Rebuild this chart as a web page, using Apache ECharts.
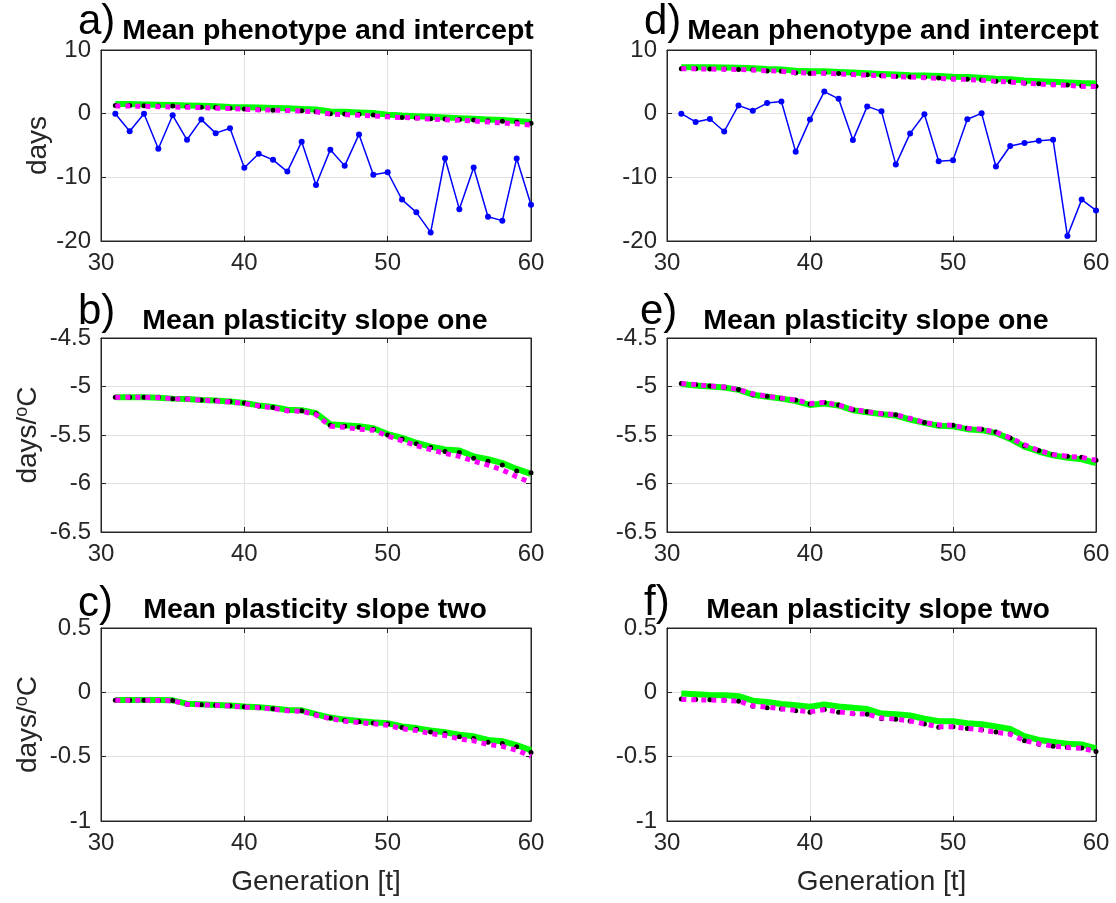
<!DOCTYPE html>
<html>
<head>
<meta charset="utf-8">
<script src="https://cdn.jsdelivr.net/npm/echarts@6/dist/echarts.min.js"></script>
<style>
  html, body { margin: 0; padding: 0; background: #fff; }
  #chart { width: 1116px; height: 903px; }
</style>
</head>
<body>
<div id="chart"></div>
<script>
// generations on the x axis
const gen = [31, 32, 33, 34, 35, 36, 37, 38, 39, 40, 41, 42, 43, 44, 45, 46, 47, 48, 49, 50, 51, 52, 53, 54, 55, 56, 57, 58, 59, 60];

// a) mean phenotype and intercept (left)
const blueA = [0, -2.75, 0, -5.5, -0.26, -4.1, -0.93, -3.06, -2.28, -8.5, -6.3, -7.25, -9.1, -4.4, -11.2, -5.65, -8.2, -3.26, -9.6, -9.2, -13.5, -15.5, -18.65, -7.0, -15.0, -8.45, -16.2, -16.8, -7.05, -14.3];
const greenA = [1.5, 1.5, 1.45, 1.4, 1.35, 1.3, 1.25, 1.15, 1.05, 1.0, 0.95, 0.9, 0.85, 0.75, 0.65, 0.35, 0.3, 0.2, 0.1, -0.15, -0.3, -0.4, -0.5, -0.6, -0.7, -0.8, -0.9, -1.0, -1.15, -1.3];
const blackA = [1.3, 1.3, 1.25, 1.2, 1.2, 1.1, 1.0, 0.95, 0.85, 0.75, 0.6, 0.55, 0.5, 0.45, 0.3, 0.0, -0.05, -0.1, -0.2, -0.4, -0.6, -0.7, -0.8, -0.85, -0.9, -1.0, -1.1, -1.2, -1.3, -1.5];
const magentaA = [1.2, 1.2, 1.15, 1.1, 1.05, 1.0, 0.95, 0.85, 0.8, 0.7, 0.6, 0.55, 0.5, 0.4, 0.3, -0.05, -0.15, -0.25, -0.35, -0.5, -0.6, -0.7, -0.85, -0.95, -1.05, -1.15, -1.3, -1.45, -1.6, -1.8];

// d) mean phenotype and intercept (right)
const blueD = [0, -1.3, -0.83, -2.8, 1.3, 0.47, 1.66, 1.9, -6.0, -0.93, 3.47, 2.33, -4.15, 1.14, 0.36, -8.0, -3.1, -0.1, -7.46, -7.3, -0.88, 0.05, -8.3, -5.08, -4.6, -4.25, -4.1, -19.2, -13.5, -15.2];
const greenD = [7.3, 7.3, 7.28, 7.25, 7.2, 7.15, 7.0, 6.95, 6.75, 6.65, 6.65, 6.55, 6.45, 6.35, 6.25, 6.15, 6.05, 6.0, 5.9, 5.8, 5.75, 5.65, 5.5, 5.4, 5.2, 5.1, 5.0, 4.9, 4.8, 4.75];
const blackD = [7.05, 7.05, 7.0, 7.0, 6.95, 6.9, 6.7, 6.65, 6.4, 6.3, 6.4, 6.3, 6.2, 6.1, 5.95, 5.85, 5.75, 5.7, 5.6, 5.44, 5.4, 5.3, 5.1, 5.0, 4.77, 4.7, 4.56, 4.5, 4.35, 4.3];
const magentaD = [7.05, 7.05, 7.0, 6.98, 6.95, 6.85, 6.75, 6.65, 6.45, 6.35, 6.35, 6.25, 6.15, 6.05, 5.95, 5.85, 5.75, 5.65, 5.55, 5.45, 5.38, 5.25, 5.1, 4.95, 4.8, 4.65, 4.55, 4.45, 4.3, 4.25];

// b) mean plasticity slope one (left)
const greenB = [-5.11, -5.11, -5.11, -5.115, -5.125, -5.13, -5.14, -5.145, -5.155, -5.17, -5.195, -5.21, -5.24, -5.245, -5.275, -5.39, -5.4, -5.41, -5.43, -5.49, -5.53, -5.58, -5.62, -5.65, -5.66, -5.72, -5.75, -5.79, -5.85, -5.9];
const blackB = [-5.11, -5.11, -5.11, -5.11, -5.127, -5.13, -5.14, -5.145, -5.155, -5.17, -5.2, -5.216, -5.25, -5.25, -5.28, -5.4, -5.41, -5.42, -5.44, -5.5, -5.54, -5.59, -5.63, -5.67, -5.68, -5.74, -5.77, -5.81, -5.87, -5.89];
const magentaB = [-5.11, -5.11, -5.11, -5.115, -5.125, -5.13, -5.14, -5.15, -5.16, -5.175, -5.2, -5.22, -5.25, -5.255, -5.29, -5.41, -5.42, -5.44, -5.45, -5.51, -5.56, -5.61, -5.65, -5.69, -5.72, -5.77, -5.81, -5.86, -5.93, -5.99];

// e) mean plasticity slope one (right)
const greenE = [-4.975, -4.99, -5.0, -5.01, -5.035, -5.085, -5.105, -5.125, -5.15, -5.19, -5.175, -5.195, -5.245, -5.265, -5.285, -5.3, -5.34, -5.375, -5.405, -5.41, -5.44, -5.45, -5.48, -5.54, -5.62, -5.67, -5.71, -5.735, -5.75, -5.79];
const blackE = [-4.97, -4.98, -4.995, -5.007, -5.03, -5.08, -5.1, -5.12, -5.14, -5.18, -5.165, -5.19, -5.24, -5.26, -5.28, -5.29, -5.33, -5.37, -5.4, -5.4, -5.43, -5.44, -5.47, -5.53, -5.61, -5.66, -5.7, -5.72, -5.73, -5.76];
const magentaE = [-4.97, -4.98, -4.995, -5.005, -5.03, -5.075, -5.1, -5.12, -5.14, -5.175, -5.165, -5.19, -5.235, -5.26, -5.28, -5.29, -5.33, -5.37, -5.395, -5.4, -5.43, -5.44, -5.47, -5.53, -5.6, -5.66, -5.7, -5.72, -5.73, -5.76];

// c) mean plasticity slope two (left)
const greenC = [-0.06, -0.06, -0.06, -0.06, -0.062, -0.088, -0.093, -0.098, -0.103, -0.11, -0.115, -0.125, -0.138, -0.14, -0.17, -0.196, -0.212, -0.222, -0.232, -0.24, -0.265, -0.278, -0.296, -0.31, -0.33, -0.342, -0.37, -0.38, -0.41, -0.45];
const blackC = [-0.062, -0.062, -0.062, -0.063, -0.064, -0.092, -0.096, -0.1, -0.105, -0.113, -0.118, -0.128, -0.141, -0.144, -0.174, -0.2, -0.218, -0.228, -0.238, -0.246, -0.274, -0.287, -0.308, -0.32, -0.346, -0.359, -0.387, -0.397, -0.423, -0.467];
const magentaC = [-0.062, -0.062, -0.062, -0.063, -0.065, -0.093, -0.097, -0.101, -0.107, -0.115, -0.12, -0.13, -0.144, -0.148, -0.178, -0.205, -0.224, -0.235, -0.245, -0.255, -0.283, -0.297, -0.32, -0.335, -0.362, -0.377, -0.405, -0.42, -0.45, -0.497];

// f) mean plasticity slope two (right)
const greenF = [-0.01, -0.015, -0.02, -0.022, -0.03, -0.065, -0.075, -0.09, -0.1, -0.112, -0.095, -0.11, -0.12, -0.13, -0.165, -0.17, -0.18, -0.205, -0.225, -0.225, -0.24, -0.248, -0.265, -0.285, -0.34, -0.37, -0.385, -0.4, -0.405, -0.435];
const blackF = [-0.051, -0.055, -0.058, -0.062, -0.07, -0.108, -0.12, -0.13, -0.144, -0.154, -0.133, -0.154, -0.167, -0.17, -0.205, -0.21, -0.223, -0.246, -0.272, -0.267, -0.282, -0.29, -0.308, -0.323, -0.377, -0.403, -0.42, -0.428, -0.433, -0.459];
const magentaF = [-0.055, -0.058, -0.06, -0.062, -0.068, -0.105, -0.115, -0.128, -0.14, -0.15, -0.135, -0.152, -0.165, -0.17, -0.2, -0.208, -0.222, -0.245, -0.268, -0.268, -0.28, -0.292, -0.31, -0.325, -0.375, -0.4, -0.418, -0.428, -0.435, -0.458];

const titles = ['Mean phenotype and intercept', 'Mean plasticity slope one', 'Mean plasticity slope two'];
const letters = ['a)', 'b)', 'c)', 'd)', 'e)', 'f)'];
const yRanges = [[-20, 10, 10], [-6.5, -4.5, 0.5], [-1, 0.5, 0.5]];

const FONT = 'Liberation Sans';
const INK = '#262626';

// panel layout: [left, top, width, height]
const boxes = [
  [101, 50, 430, 191], [101, 338, 430, 194], [101, 628, 430, 193],
  [667, 50, 429, 191], [667, 338, 429, 194], [667, 628, 429, 193]
];
// title centres and letter positions
const titleX = [328, 315, 315, 893, 876, 878];
const titleY = [31, 321, 610, 31, 321, 610];
const letterX = [78, 78, 78, 644, 640, 644];
const letterY = [22, 312, 604, 22, 312, 603];

const panels = [
  { blue: blueA, green: greenA, black: blackA, magenta: magentaA },
  { green: greenB, black: blackB, magenta: magentaB },
  { green: greenC, black: blackC, magenta: magentaC },
  { blue: blueD, green: greenD, black: blackD, magenta: magentaD },
  { green: greenE, black: blackE, magenta: magentaE },
  { green: greenF, black: blackF, magenta: magentaF }
];

function pairs(vals) {
  return gen.map((g, i) => [g, vals[i]]);
}

const grid = [], xAxis = [], yAxis = [], series = [], graphic = [];

boxes.forEach((b, i) => {
  const row = i % 3, col = Math.floor(i / 3);
  const yr = yRanges[row];
  grid.push({ left: b[0], top: b[1], width: b[2], height: b[3], show: true, borderColor: INK, borderWidth: 1, backgroundColor: '#fff' });

  xAxis.push({
    gridIndex: i, type: 'value', min: 30, max: 60, interval: 10,
    name: row === 2 ? 'Generation [t]' : '', nameLocation: 'middle', nameGap: 47,
    nameTextStyle: { fontFamily: FONT, fontSize: 28, color: INK },
    axisLine: { show: true, onZero: false, lineStyle: { color: INK } },
    axisTick: { inside: true, length: 5, lineStyle: { color: INK } },
    axisLabel: { color: INK, fontSize: 24, fontFamily: FONT, margin: 10 },
    splitLine: { show: true, lineStyle: { color: '#e0e0e0' } }
  });
  xAxis.push({
    gridIndex: i, type: 'value', min: 30, max: 60, interval: 10, position: 'top',
    axisLine: { show: true, onZero: false, lineStyle: { color: INK } },
    axisTick: { inside: true, length: 5, lineStyle: { color: INK } },
    axisLabel: { show: false }, splitLine: { show: false }
  });

  let yName = '';
  if (col === 0) yName = row === 0 ? 'days' : '{t|days/}{s|o}{t|C}';
  yAxis.push({
    gridIndex: i, type: 'value', min: yr[0], max: yr[1], interval: yr[2],
    name: yName, nameLocation: 'middle', nameGap: row === 0 ? 49 : 58,
    nameTextStyle: {
      fontFamily: FONT, fontSize: 28, color: INK,
      rich: {
        t: { fontFamily: FONT, fontSize: 28, color: INK },
        s: { fontFamily: FONT, fontSize: 18, color: INK, verticalAlign: 'top', padding: [0, 0, 12, 0] }
      }
    },
    axisLine: { show: true, onZero: false, lineStyle: { color: INK } },
    axisTick: { inside: true, length: 5, lineStyle: { color: INK } },
    axisLabel: { color: INK, fontSize: 24, fontFamily: FONT, margin: 10 },
    splitLine: { show: true, lineStyle: { color: '#e0e0e0' } }
  });
  yAxis.push({
    gridIndex: i, type: 'value', min: yr[0], max: yr[1], interval: yr[2], position: 'right',
    axisLine: { show: true, onZero: false, lineStyle: { color: INK } },
    axisTick: { inside: true, length: 5, lineStyle: { color: INK } },
    axisLabel: { show: false }, splitLine: { show: false }
  });

  const p = panels[i];
  const xi = i * 2, yi = i * 2;
  if (p.blue) {
    series.push({
      type: 'line', xAxisIndex: xi, yAxisIndex: yi, data: pairs(p.blue), z: 2,
      symbol: 'circle', symbolSize: 6, itemStyle: { color: '#0000ff' },
      lineStyle: { color: '#0000ff', width: 1.5 }, animation: false
    });
  }
  series.push({
    type: 'line', xAxisIndex: xi, yAxisIndex: yi, data: pairs(p.green), z: 3,
    showSymbol: false, lineStyle: { color: '#00ff00', width: 6 }, animation: false
  });
  series.push({
    type: 'line', xAxisIndex: xi, yAxisIndex: yi, data: pairs(p.black), z: 4,
    symbol: 'circle', symbolSize: 5, itemStyle: { color: '#000' },
    lineStyle: { width: 0, opacity: 0 }, animation: false
  });
  series.push({
    type: 'line', xAxisIndex: xi, yAxisIndex: yi, data: pairs(p.magenta), z: 5,
    showSymbol: false, lineStyle: { color: '#ff00ff', width: 5, type: [5, 5], cap: 'butt' }, animation: false
  });

  // panel letter and bold title
  graphic.push({
    type: 'text', x: letterX[i], y: letterY[i],
    style: { text: letters[i], font: '42px "' + FONT + '"', fill: '#000', textAlign: 'left', textVerticalAlign: 'middle' }
  });
  graphic.push({
    type: 'text', x: titleX[i], y: titleY[i],
    style: { text: titles[row], font: 'bold 28.5px "' + FONT + '"', fill: '#000', textAlign: 'center', textVerticalAlign: 'middle' }
  });
});

const chart = echarts.init(document.getElementById('chart'), null, { renderer: 'canvas' });
chart.setOption({
  backgroundColor: '#fff',
  animation: false,
  grid, xAxis, yAxis, series, graphic
});
</script>
</body>
</html>
